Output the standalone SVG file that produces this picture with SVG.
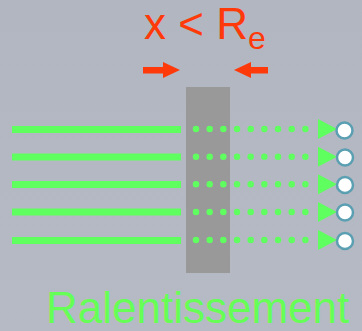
<svg xmlns="http://www.w3.org/2000/svg" width="362" height="331" viewBox="0 0 362 331">
<defs>
<style>
.ln{stroke:#5fff5f;stroke-width:7;fill:none}
.dt{stroke:#5fff5f;stroke-width:6.5;stroke-linecap:round;stroke-dasharray:0 13.67;fill:none}
.tri{fill:#5fff5f}
.end{fill:#ffffff;stroke:#5b9fb2;stroke-width:2.5}
.red{fill:#ff3a0a}
.title{font-family:"Liberation Sans",Arial,sans-serif;fill:#ff3a0a}
</style>
<linearGradient id="bg" x1="0" y1="0" x2="0" y2="1">
<stop offset="0" stop-color="#b2b6c0"/>
<stop offset="1" stop-color="#b6bac4"/>
</linearGradient>
</defs>
<rect x="0" y="0" width="362" height="331" fill="url(#bg)"/>
<g id="title">
<text class="title" x="144" y="39" font-size="44">x &lt; R<tspan font-size="32" dy="10">e</tspan></text>
</g>
<g id="arrows-top">
<rect class="red" x="143" y="67" width="22" height="6.5"/>
<polygon class="red" points="163,62 180,70 163,78"/>
<rect class="red" x="248" y="67" width="20" height="6.5"/>
<polygon class="red" points="251,62 234,70 251,78"/>
</g>
<g id="barrier">
<rect x="186" y="87" width="44" height="186" fill="#999999"/>
</g>
<g id="connectors">
<line class="ln" x1="12" y1="129.5" x2="181" y2="129.5"/>
<line class="ln" x1="12" y1="157" x2="181" y2="157"/>
<line class="ln" x1="12" y1="184.5" x2="181" y2="184.5"/>
<line class="ln" x1="12" y1="212" x2="181" y2="212"/>
<line class="ln" x1="12" y1="240.5" x2="181" y2="240.5"/>
<line class="dt" x1="196" y1="129" x2="310" y2="129"/>
<line class="dt" x1="196" y1="156.7" x2="310" y2="156.7"/>
<line class="dt" x1="196" y1="184.3" x2="310" y2="184.3"/>
<line class="dt" x1="196" y1="212" x2="310" y2="212"/>
<line class="dt" x1="196" y1="240" x2="310" y2="240"/>
<polygon class="tri" points="318,119 337,129 318,139"/>
<polygon class="tri" points="318,146.7 337,156.7 318,166.7"/>
<polygon class="tri" points="318,174.3 337,184.3 318,194.3"/>
<polygon class="tri" points="318,202 337,212 318,222"/>
<polygon class="tri" points="318,230 337,240 318,250"/>
</g>
<g id="ends">
<circle class="end" cx="344.5" cy="130.5" r="8"/>
<circle class="end" cx="345" cy="157.5" r="8"/>
<circle class="end" cx="345" cy="185" r="8"/>
<circle class="end" cx="345" cy="212.5" r="8"/>
<circle class="end" cx="345" cy="241" r="8"/>
</g>
<g id="label">
<text x="46" y="323" font-family="'Liberation Sans',Arial,sans-serif" font-size="44" fill="#66ff55">Ralentissement</text>
</g>
</svg>
